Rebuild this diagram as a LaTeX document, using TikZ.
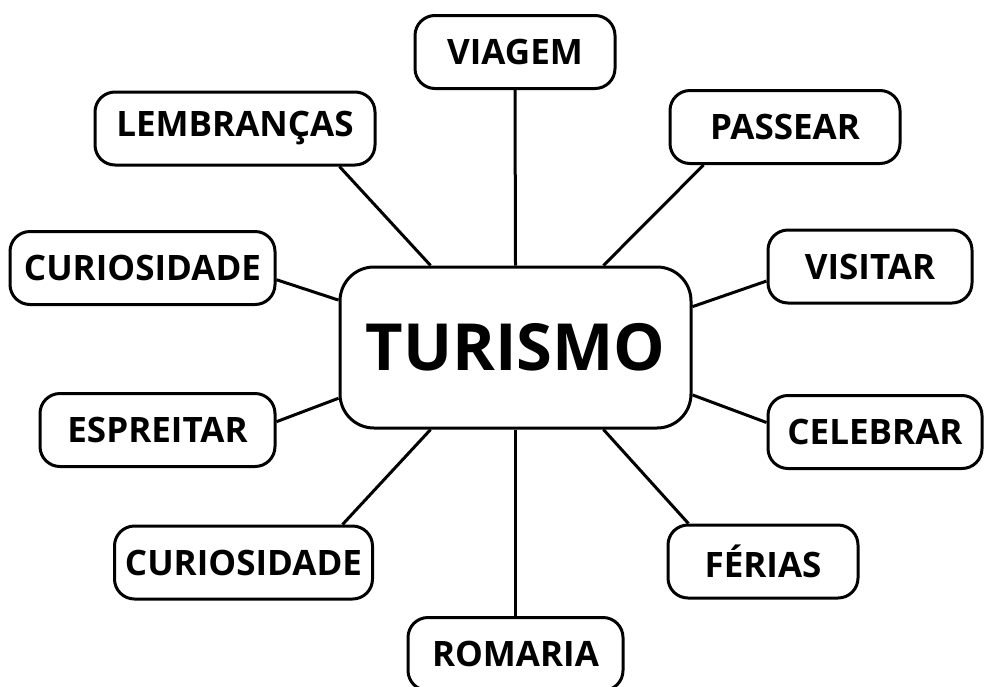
\documentclass[tikz,border=0pt]{standalone}
\usepackage{fontspec}
\setmainfont{Open Sans}
\usepackage{tikz}

\begin{document}
\begin{tikzpicture}[x=1pt,y=-1pt,
  leaf/.style={draw,line width=3pt,rounded corners=20pt,minimum height=73pt,
    inner xsep=4pt,font=\fontsize{35}{42}\selectfont\bfseries},
  hub/.style={draw,line width=3pt,rounded corners=34pt,minimum width=351pt,
    minimum height=161pt,font=\fontsize{65}{78}\selectfont\bfseries},
  link/.style={line width=3pt}]
\useasboundingbox (0,0) rectangle (992,686);
\node[hub] (t) at (515.5,347.5) {TURISMO};
\node[leaf,minimum width=200pt] (v) at (515,52) {VIAGEM};
\node[leaf,minimum width=280pt] (l) at (235,128.5) {LEMBRANÇAS};
\node[leaf,minimum width=230pt] (p) at (785,127) {PASSEAR};
\node[leaf,minimum width=265pt] (c1) at (142.5,268) {CURIOSIDADE};
\node[leaf,minimum width=204pt] (vs) at (870,266.5) {VISITAR};
\node[leaf,minimum width=235pt] (e) at (157.5,430) {ESPREITAR};
\node[leaf,minimum width=214pt] (cb) at (875,432) {CELEBRAR};
\node[leaf,minimum width=258pt] (c2) at (243.5,562.5) {CURIOSIDADE};
\node[leaf,minimum width=190pt] (f) at (763,561.5) {FÉRIAS};
\node[leaf,minimum width=215pt] (r) at (515.5,654) {ROMARIA};
\draw[link] (t.north) -- (v.south);
\draw[link] (t.136) -- (l.-20);
\draw[link] (t.43) -- (p.205);
\draw[link] (t.165.5) -- (c1.-5);
\draw[link] (t.13.5) -- (vs.188);
\draw[link] (t.196) -- (e.4);
\draw[link] (t.-15) -- (cb.175);
\draw[link] (t.224.3) -- (c2.21);
\draw[link] (t.-43.6) -- (f.153);
\draw[link] (t.south) -- (r.north);
\end{tikzpicture}
\end{document}
